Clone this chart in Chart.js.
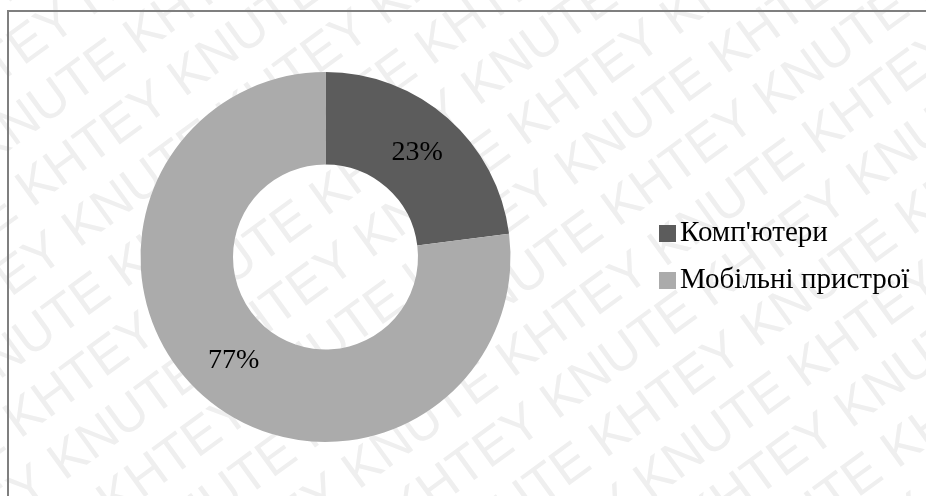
<!DOCTYPE html>
<html>
<head>
<meta charset="utf-8">
<script src="https://cdn.jsdelivr.net/npm/chart.js@4/dist/chart.umd.min.js"></script>
<style>
  html, body { margin: 0; padding: 0; background: #ffffff; overflow: hidden; }
  #wrap { width: 926px; height: 496px; position: relative; }
</style>
</head>
<body>
<div id="wrap"><canvas id="chart" width="926" height="496"></canvas></div>
<script>
// Device types and their share of traffic, %
const categories = ["Комп'ютери", "Мобільні пристрої"];
const shares = [23, 77];
const sliceColors = ['#5c5c5c', '#ababab'];
const watermarkWords = ['KHTEY', 'KNUTE'];

const serif = '"Liberation Serif", "Times New Roman", serif';

// Faint diagonal lettering behind the chart plus the outer frame
const backdrop = {
  id: 'backdrop',
  beforeDraw(chart) {
    const ctx = chart.ctx;
    ctx.save();
    ctx.fillStyle = '#ffffff';
    ctx.fillRect(0, 0, chart.width, chart.height);
    ctx.beginPath();
    ctx.rect(0, 0, chart.width, chart.height);
    ctx.clip();
    ctx.translate(chart.width / 2, chart.height / 2);
    ctx.rotate(-36 * Math.PI / 180);
    ctx.font = '52px "Liberation Sans", Arial, sans-serif';
    ctx.fillStyle = '#efefef';
    ctx.textBaseline = 'middle';
    const line = (watermarkWords.join(' ') + ' ').repeat(10);
    const w = ctx.measureText(watermarkWords[0] + ' ').width;
    for (let r = -10; r <= 10; r++) {
      const shift = (r % 2 === 0) ? 0 : w;
      ctx.fillText(line, -1200 + shift + r * 14, r * 60);
    }
    ctx.restore();

    ctx.save();
    ctx.strokeStyle = '#7f7f7f';
    ctx.lineWidth = 2;
    ctx.beginPath();
    ctx.moveTo(8, chart.height + 2);
    ctx.lineTo(8, 11);
    ctx.lineTo(chart.width + 2, 11);
    ctx.stroke();
    ctx.restore();
  }
};

// Percent labels centred in each ring segment
const sliceLabels = {
  id: 'sliceLabels',
  afterDatasetsDraw(chart) {
    const ctx = chart.ctx;
    const meta = chart.getDatasetMeta(0);
    ctx.save();
    ctx.font = '28px ' + serif;
    ctx.fillStyle = '#000000';
    ctx.textAlign = 'center';
    ctx.textBaseline = 'middle';
    meta.data.forEach((arc, i) => {
      const p = arc.tooltipPosition();
      ctx.fillText(shares[i] + '%', p.x, p.y);
    });
    ctx.restore();
  }
};

// Legend at the right: square swatch followed by the category name
const sideLegend = {
  id: 'sideLegend',
  afterDraw(chart) {
    const ctx = chart.ctx;
    const ds = chart.data.datasets[0];
    ctx.save();
    ctx.font = '29px ' + serif;
    ctx.textBaseline = 'middle';
    ctx.textAlign = 'left';
    chart.data.labels.forEach((label, i) => {
      const y = 233 + i * 47;
      ctx.fillStyle = ds.backgroundColor[i];
      ctx.fillRect(659, y - 8, 17, 17);
      ctx.fillStyle = '#000000';
      ctx.fillText(label, 680, y);
    });
    ctx.restore();
  }
};

new Chart(document.getElementById('chart'), {
  type: 'doughnut',
  data: {
    labels: categories,
    datasets: [{
      data: shares,
      backgroundColor: sliceColors,
      borderWidth: 0,
      hoverOffset: 0
    }]
  },
  options: {
    responsive: false,
    animation: false,
    cutout: '50%',
    layout: { padding: { left: 140, right: 415, top: 72, bottom: 54 } },
    plugins: {
      legend: { display: false },
      tooltip: { enabled: false }
    }
  },
  plugins: [backdrop, sliceLabels, sideLegend]
});
</script>
</body>
</html>
